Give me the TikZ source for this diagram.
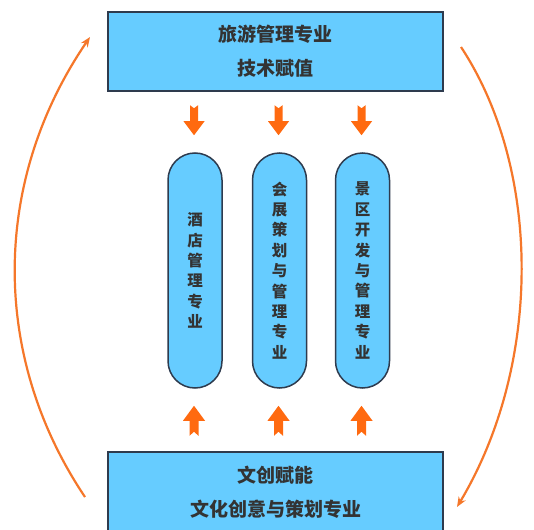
\documentclass[tikz,border=0pt]{standalone}
\usepackage{fontspec}
\setmainfont{Noto Sans CJK SC}
\usetikzlibrary{arrows.meta,calc}
\definecolor{boxfill}{HTML}{66CCFF}
\definecolor{boxline}{HTML}{2E3B4E}
\definecolor{orangec}{HTML}{FF6A10}
\definecolor{arcc}{HTML}{F5772A}
\definecolor{txt}{HTML}{333333}
\tikzset{
  bigbox/.style={draw=boxline, line width=1.5pt, fill=boxfill, minimum width=335pt,
    minimum height=79pt, inner sep=0pt, align=center, text=txt,
    font=\fontsize{19}{34}\selectfont\bfseries},
  pill/.style={draw=boxline, line width=1.5pt, fill=boxfill, minimum width=54pt,
    minimum height=235pt, rounded corners=27pt, inner sep=0pt, align=center, text=txt,
    font=\fontsize{15.5}{20.4}\selectfont\bfseries},
  arcline/.style={draw=arcc, line width=2.2pt, -{Stealth[length=10pt,width=8pt]}},
  downarr/.pic={\fill[orangec] (-4,-15) -- (0,-12) -- (4,-15) -- (4,1) -- (10.5,1) -- (0,15) -- (-10.5,1) -- (-4,1) -- cycle;},
  uparr/.pic={\fill[orangec] (0,-16) -- (11,-1) -- (4.5,-1) -- (4.5,14) -- (0,10) -- (-4.5,14) -- (-4.5,-1) -- (-11,-1) -- cycle;}
}
\begin{document}
\begin{tikzpicture}[x=1pt,y=-1pt]
\useasboundingbox (0,0) rectangle (534,529);
\clip (0,0) rectangle (534,529);
\fill[white] (0,0) rectangle (534,529);
% boxes
\node[bigbox] (top) at (275.5,51.5) {旅游管理专业\\技术赋值};
\node[bigbox, minimum height=81pt] (bot) at (275.5,492.5) {文创赋能\\文化创意与策划专业};
% pills
\node[pill] (p1) at (195,270.5) {酒\\店\\管\\理\\专\\业};
\node[pill] (p2) at (279.5,270.5) {会\\展\\策\\划\\与\\管\\理\\专\\业};
\node[pill] (p3) at (362.5,270.5) {景\\区\\开\\发\\与\\管\\理\\专\\业};
% block arrows
\foreach \p in {p1,p2,p3}{
  \pic at ($(\p.north)+(-1,-32)$) {downarr};
  \pic at ($(\p.south)+(-1,33)$) {uparr};
}
% arcs
\coordinate (la) at (85,497);
\coordinate (lb) at (90,37);
\coordinate (ra) at (461,47);
\coordinate (rb) at (457,507);
\draw[arcline] (la) .. controls (-9,357) and (-9,182) .. (lb);
\draw[arcline] (ra) .. controls (542,170) and (542,365) .. (rb);
\end{tikzpicture}
\end{document}
